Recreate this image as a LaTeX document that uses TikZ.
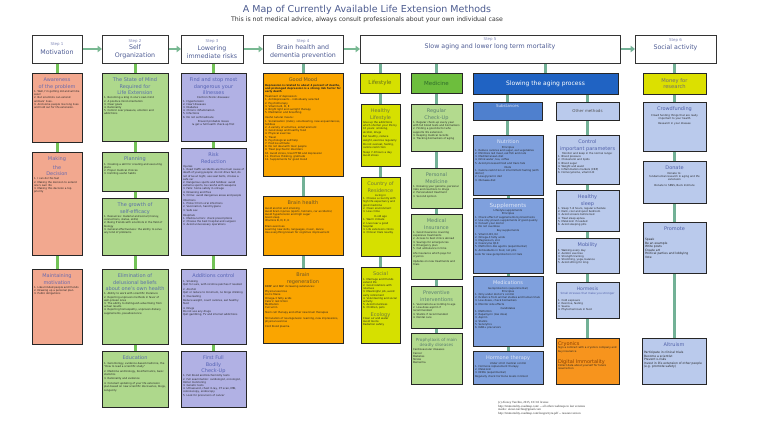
\documentclass[tikz,border=0pt]{standalone}
\usepackage{fontspec}
\setmainfont{DejaVu Sans}
\newfontfamily\serifft{Liberation Serif}
\usetikzlibrary{arrows.meta}
\pgfdeclarelayer{bg}
\pgfsetlayers{bg,main}
\definecolor{salm}{HTML}{F2A88F}
\definecolor{grn}{HTML}{AED88C}
\definecolor{lav}{HTML}{B1B1E4}
\definecolor{org}{HTML}{FAA500}
\definecolor{yel}{HTML}{D6E000}
\definecolor{medg}{HTML}{6DBE3D}
\definecolor{lgrn}{HTML}{B3DA8E}
\definecolor{slowc}{HTML}{2063C3}
\definecolor{subc}{HTML}{4F80CE}
\definecolor{nutc}{HTML}{7FA0DD}
\definecolor{lblu}{HTML}{BACAEC}
\definecolor{cryo}{HTML}{F7941D}
\definecolor{money}{HTML}{DCE000}
\definecolor{cgreen}{HTML}{72C257}
\definecolor{cteal}{HTML}{72B196}
\definecolor{arrc}{HTML}{78B892}
\definecolor{tcS}{HTML}{6A6AAE}
\definecolor{tcG}{HTML}{5A6EA8}
\definecolor{tcL}{HTML}{5562B4}
\definecolor{tcO}{HTML}{6B5528}
\definecolor{tcY}{HTML}{707A3A}
\definecolor{tcM}{HTML}{5C8070}
\definecolor{tcN}{HTML}{DCE4F6}
\definecolor{tcB}{HTML}{5060A8}
\definecolor{tcC}{HTML}{8A3F00}
\definecolor{bodyc}{HTML}{222222}
\definecolor{stepc}{HTML}{8088B8}
\definecolor{stept}{HTML}{4E5C94}
\definecolor{ttl}{HTML}{4C5B8F}
\definecolor{lifet}{HTML}{66701A}
\definecolor{medt}{HTML}{2E6B2A}
\definecolor{othert}{HTML}{555555}
\definecolor{moneyt}{HTML}{707070}
\newcommand\bt{\fontsize{2.6}{3.2}\selectfont}
\newcommand\btl{\fontsize{3}{3.6}\selectfont}
\newcommand\tf{\fontsize{5}{6.4}\selectfont}
\newcommand\stp{\fontsize{4}{4.6}\selectfont\color{stepc}}
\newcommand\stt{\fontsize{6.3}{7.4}\selectfont\color{stept}}
\newcommand\ctr[1]{\par{\centering #1\par}}
\tikzset{
  bx/.style={draw=black!85, line width=0.9pt, anchor=north west, inner xsep=2pt, inner ysep=2.5pt, outer sep=0pt},
  hdr/.style={draw=black!85, line width=0.9pt, anchor=north west, inner sep=1pt, outer sep=0pt, align=center, font=\fontsize{5.5}{6.6}\selectfont},
  stepbox/.style={draw=black!80, line width=0.8pt, fill=white, anchor=north west, align=center, inner sep=1pt, minimum height=28pt, outer sep=0pt, font=\fontsize{6.3}{7.6}\selectfont},
  cg/.style={draw=cgreen, line width=3pt},
  ct/.style={draw=cteal, line width=3pt},
  stepar/.style={draw=arrc, line width=2.6pt, -{Triangle[length=4.5pt,width=6.5pt]}}
}
\newcommand\mybox[9]{%
\node[bx,fill=#6,minimum width=#4pt,minimum height=#5pt] (#1) at (#2,#3) {%
\begin{minipage}[t][\dimexpr#5pt-5pt\relax][t]{\dimexpr#4pt-4pt\relax}%
\vspace*{2.5pt}{\centering\tf\leavevmode\color{#7}#8\par}\vspace{1.2pt}%
{\raggedright\bt\color{bodyc}#9\par}%
\end{minipage}};}
\begin{document}
\begin{tikzpicture}[x=1pt,y=-1pt]
\begin{pgfonlayer}{bg}
\fill[white] (0,0) rectangle (768,427);
\end{pgfonlayer}
\useasboundingbox (0,0) rectangle (768,427);

% title
\node[font=\fontsize{9.5}{11}\selectfont, text=ttl] (title) at (367,10) {A Map of Currently Available Life Extension Methods};
\node[font=\fontsize{6.2}{7}\selectfont, text=black!80] (subtitle) at (367,20) {This is not medical advice, always consult professionals about your own individual case};

% steps
\node[stepbox, minimum width=50pt] (st1) at (32,35) {{\stp Step 1}\\[1.5pt]{\stt Motivation}};
\node[stepbox, minimum width=66pt] (st2) at (102,35) {{\stp Step 2}\\{\stt Self}\\{\stt Organization}};
\node[stepbox, minimum width=62pt] (st3) at (181,35) {{\stp Step 3}\\{\stt Lowering}\\{\stt immediate risks}};
\node[stepbox, minimum width=80pt] (st4) at (263,35) {{\stp Step 4}\\{\stt Brain health and}\\{\stt dementia prevention}};
\node[stepbox, minimum width=260pt] (st5) at (360,35) {{\stp Step 5}\\[0.5pt]{\stt Slow aging and lower long term mortality}\\[4pt]};
\node[stepbox, minimum width=81pt] (st6) at (635,35) {{\stp Step 6}\\[0.5pt]{\stt Social activity}\\[3pt]};

% column 1
\mybox{a1}{32}{73}{50}{69}{salm}{tcS}{Awareness\\of the problem}{1. Well, I'm getting old and will die soon!\\2. But scientists can extend animals' lives.\\3. And some people live long lives and hold out for life extension.}
\mybox{a2}{32}{152}{50}{103}{salm}{tcS}{\vspace*{2pt}Making\\the\\Decision}{1. I can do this fast\\2. Making the decision to extend one's own life\\3. Making this decision a top priority}
\mybox{a3}{32}{269}{50}{75}{salm}{tcS}{Maintaining\\motivation}{1. Like-minded people and friends\\2. Drawing up a personal plan\\3. Public obligations}

% column 2
\mybox{b1}{102}{73}{66}{68}{grn}{tcG}{The State of Mind\\Required for\\Life Extension}{1. Becoming a king in one's own mind\\2. A positive mind orientation\\3. Clear goals\\4. Rationality\\5. Control over pleasure, emotion and addictions}
\mybox{b2}{102}{152}{66}{39}{grn}{tcG}{Planning}{1. Creating a skill for creating and executing plans\\2. Proper medical choices\\3. Instilling useful habits}
\mybox{b3}{102}{198}{66}{57}{grn}{tcG}{The growth of\\self-efficacy}{1. Resources: material and social (money, connections, status, skills)\\2. Being friends with scientists in the field of biology\\3. General effectiveness: the ability to solve any kind of problems}
\mybox{b4}{102}{269}{66}{75}{grn}{tcG}{Elimination of\\delusional beliefs\\about one's own health}{1. Ability to work with scientific literature\\2. Rejecting unproven methods in favor of well-proven ones\\3. The ability to distinguish advertising from actual results\\4. Rejecting homeopathy, unproven dietary supplements, pseudoscience}
\mybox{b5}{102}{351}{66}{56}{grn}{tcG}{Education}{1. Gerontology, evidence-based medicine, the ``How to read a scientific study''\\[1.5pt]2. Medicine and biology, bioinformatics, basic statistics\\[1.5pt]3. Rationality and evidence\\[1.5pt]4. Constant updating of your life extension plan based on new scientific discoveries, blogs, Longecity}

% column 3
\mybox{c1}{181}{73}{65}{68}{lav}{tcL}{Find and stop most\\dangerous your\\illnesses}{\ctr{Control chronic diseases:}1. Hypertension\\2. Heart diseases\\3. Diabetes\\4. Chronic inflammation\\5. Infections\\6. Do not self-medicate\ctr{\vspace{1pt}Prevent probable losses\\\& get a full health check-up first}}
\mybox{c2}{181}{148}{65}{107}{lav}{tcL}{Risk\\Reduction}{Injuries\\1. Road traffic accidents are the main cause of death of young people: do not drive fast, do not drive at night, use seat belts, choose a safe car\\2. Dangerous sports and hobbies: avoid extreme sports, be careful with weapons\\3. Falls: home safety in old age\\4. Drowning and fires\\5. Crime: avoid dangerous areas and people\\[2pt]Infections\\1. Protect from viral infections\\2. Vaccination, hand hygiene\\3. Safe sex\\[2pt]Hospitals\\1. Medical errors: check prescriptions\\2. Choose the best hospital and surgeon\\3. Avoid unnecessary operations}
\mybox{c3}{181}{269}{65}{75}{lav}{tcL}{Additions control}{1. Smoking\\Quit for sure, with nicotine patches if needed\\[1.5pt]2. Alcohol\\Quit or reduce to minimum, no binge drinking\\[1.5pt]3. Overeating\\Reduce weight, count calories, eat healthy food\\[1.5pt]4. Drugs\\Do not use any drugs\\Quit gambling, TV and internet addictions}
\mybox{c4}{181}{351}{65}{56}{lav}{tcL}{First Full\\Bodily\\Check-Up}{1. Full blood and biochemistry tests\\2. Full examination: cardiologist, oncologist, Holter monitoring\\3. Genetic tests\\4. Ultrasound, chest X-ray, CT scan, MRI, colonoscopy, endoscopy\\5. Look for precursors of cancer}

% column 4
\mybox{d1}{263}{73}{80}{103}{org}{tcO}{Good Mood}{\textbf{Depression is related to about 4 percent of deaths, and prolonged depression is a strong risk factor for early death}\\[2pt]Treatment of depression:\\1. Antidepressants -- individually selected\\2. Psychotherapy\\3. Vitamins B, D, E\\4. Bright light and sunlight therapy\\5. Meditation and breathing\\[2pt]Useful natural means:\\1. Socialisation (clubs), volunteering, new acquaintances, hobbies\\2. A variety of activities, entertainment\\3. Good sleep and healthy food\\4. Physical exercise\\5. Travel\\6. Psychological self-help\\7. Positive attitude\\8. Do not deal with toxic people\\9. Treat psychiatric disorders\\10. Avoid stress, treat PTSD and depression\\11. Positive thinking, gratitude\\12. Supplements for good mood}
\mybox{d2}{263}{196}{80}{59}{org}{tcO}{Brain health}{Avoid alcohol and smoking\\Avoid brain injuries (sports, helmets, car accidents)\\Avoid hypertension and high sugar\\Good sleep\\Vitamins B, D, E, K\\[2pt]Brain exercises\\Learning new skills, languages, music, dance\\Use everything known for cognitive improvement}
\mybox{d3}{263}{268}{80}{75}{org}{tcO}{Brain\\regeneration}{BDNF and NGF increasing substances:\\[2pt]Physical exercise\\Lion's Mane\\Omega-3 fatty acids\\Caloric restriction\\Meditation\\Curcumin\\[2pt]Stem cell therapy and other new brain therapies\\[2pt]Stimulation of neurogenesis: learning, new impressions, physical exercise\\[2pt]Cord blood plasma}

% step 5: lifestyle
\node[hdr, fill=yel, minimum width=40pt, minimum height=20pt] (l0) at (360,73) {\color{lifet}Lifestyle};
\mybox{l1}{361}{104}{39}{62}{yel}{tcY}{Healthy\\Lifestyle}{Give up the addictions which shorten your life by 10 years: smoking, alcohol, drugs\\[1.5pt]Eat healthy, reduce weight, exercise regularly\\[1.5pt]Do not overeat, fasting, calorie restriction\\[1.5pt]Sleep 7--8 hours a day\\Avoid stress}
\mybox{l2}{361}{177}{39}{79}{yel}{tcY}{Country of\\Residence}{\ctr{Living in}1. Choose a country with high life expectancy and good medicine\\2. Clean environment\\3. Low crime\\[2pt]\ctr{In old age}1. Warm climate\\2. Live near a good hospital\\3. Life extension clinics\\4. Clinical trials nearby}
\mybox{l3}{361}{267}{39}{76}{yel}{tcY}{Social}{1. Marriage and friends extend life\\2. Good relations with relatives\\3. Meaningful job, avoid early retirement\\4. Volunteering and social activity\\5. Avoid loneliness\\6. Children, pets\ctr{\vspace{1pt}\tf\color{tcY}Ecology}Clean air and water\\Avoid toxins\\Radiation safety}

% step 5: medicine
\node[hdr, fill=medg, minimum width=51pt, minimum height=20pt] (m0) at (411,73) {\color{medt}Medicine};
\mybox{m1}{411}{104}{51}{47}{lgrn}{tcM}{Regular\\Check-Up}{1. Regular check-up every year with full blood tests and biomarkers\\2. Finding a good doctor who supports life extension\\3. Keeping medical records\\4. Tracking biomarkers of aging}
\mybox{m2}{411}{168}{51}{40}{lgrn}{tcM}{Personal\\Medicine}{1. Knowing your genome, personal risks and reactions to drugs\\2. Personalized treatment\\3. Second opinion}
\mybox{m3}{411}{214}{51}{65}{lgrn}{tcM}{Medical\\Insurance}{1. Good insurance covering expensive treatments\\2. Access to best clinics abroad\\3. Savings for emergencies\\4. Emergency plan\\5. Call ambulance in time\\[1.5pt]Life insurance which pays for cryonics\\[1.5pt]Updates on new treatments and trials}
\mybox{m4}{411}{286}{51}{42}{lgrn}{tcM}{Preventive\\interventions}{1. Vaccinations according to age\\2. Low-dose aspirin if recommended\\3. Statins if recommended\\4. Dental care}
\mybox{m5}{411}{333}{51}{51}{lgrn}{tcM}{\fontsize{4.2}{5.4}\selectfont Prophylaxis of main\\deadly diseases}{Cardiovascular diseases\\Cancer\\Diabetes\\Stroke\\Dementia}

% step 5: slowing aging
\node[hdr, fill=slowc, minimum width=145pt, minimum height=21pt, font=\fontsize{6}{7}\selectfont] (s0) at (473,73) {\color{white}Slowing the aging process};
\node[hdr, fill=subc, minimum width=69pt, minimum height=18pt, font=\fontsize{4}{5}\selectfont] (sa) at (473,102) {\color{tcN}Substances\\[5pt]};
\node[hdr, fill=lblu, minimum width=63pt, minimum height=18pt, font=\fontsize{4}{5}\selectfont] (sb) at (556,102) {\color{othert}Other methods};
\mybox{n1}{473}{135}{70}{60}{nutc}{tcN}{Nutrition}{\ctr{Principles}1. Reduce calories and sugar, eat vegetables\\2. Minimize red meat, eat fish and nuts\\3. Mediterranean diet\\4. Drink water, tea, coffee\\5. Avoid processed food and trans fats\ctr{\vspace{1pt}Diets}1. Calorie restriction or intermittent fasting (with doctor)\\2. Low-glycemic diet\\3. Okinawa diet}
\mybox{n2}{473}{198}{70}{75}{nutc}{tcN}{\fontsize{5.6}{6.4}\selectfont Supplements}{\ctr{Lifestyle supplements}\ctr{Principles}1. Check effect of supplements by blood tests\\2. Use only proven supplements of good quality\\3. Consult your doctor\\4. Do not overdose\ctr{\vspace{1pt}Key supplements}1. Vitamin D3, K2\\2. Omega-3 fatty acids\\3. Magnesium, zinc\\4. Coenzyme Q10\\5. Metformin-like agents (experimental)\\6. Antioxidants in food, not pills\\[1.5pt]Look for new geroprotectors in trials}
\mybox{n3}{473}{276}{70}{70}{nutc}{tcN}{Medications}{\ctr{Geroprotectors (experimental)}\ctr{Principles}1. Only under doctor's control\\2. Evidence from animal studies and human trials\\3. Low doses, check biomarkers\\4. Monitor side effects\ctr{\vspace{1pt}Candidates}1. Metformin\\2. Rapamycin (low dose)\\3. Aspirin\\4. Statins\\5. Senolytics\\6. NAD+ precursors}
\mybox{n4}{473}{351}{70}{33}{nutc}{tcN}{Hormone therapy}{\ctr{Under strict medical control}1. Hormone replacement therapy\\2. Melatonin\\3. DHEA (experimental)\\[1pt]Regularly check hormone levels in blood}
\mybox{o1}{556}{135}{63}{49}{lblu}{tcB}{Control\\important parameters}{\ctr{Monitor and keep in the normal range:}1. Blood pressure\\2. Cholesterol and lipids\\3. Blood sugar\\4. Weight and waist\\5. Inflammation markers (CRP)\\6. Homocysteine, vitamin D}
\mybox{o2}{556}{190}{63}{41}{lblu}{tcB}{Healthy\\sleep}{1. Sleep 7--8 hours, regular schedule\\2. Dark, cool and quiet bedroom\\3. Avoid screens before bed\\4. Treat sleep apnea\\5. Melatonin if needed\\6. Avoid sleeping pills}
\mybox{o3}{556}{238}{63}{35}{lblu}{tcB}{Mobility}{1. Walking every day\\2. Aerobic exercise\\3. Strength training\\4. Stretching, yoga, balance\\5. Avoid sitting for long}
\mybox{o4}{556}{282}{63}{36}{lblu}{tcB}{\fontsize{4.6}{5}\selectfont Hormesis\\[-0.5pt]{\fontsize{2.8}{3}\selectfont Small stresses that make you stronger}}{\vspace{2pt}1. Cold exposure\\2. Exercise, fasting\\3. Sauna\\4. Phytochemicals in food}
\node[bx, fill=cryo, minimum width=63pt, minimum height=46pt] (o5) at (556,338) {\begin{minipage}[t][41pt][t]{59pt}\raggedright\vspace*{1.5pt}{\tf\color{tcC}Cryonics\par}{\bt\color{bodyc}Sign a contract with a cryonics company and buy insurance\par}\vspace{5pt}{\tf\color{tcC}Digital Immortality\par}{\bt\color{bodyc}Collect data about yourself for future resurrection\par}\end{minipage}};

% step 6
\node[hdr, fill=money, minimum width=63pt, minimum height=21pt, font=\fontsize{5.2}{6.4}\selectfont] (p0) at (643,73) {\color{moneyt}Money for\\\color{moneyt}research};
\mybox{p1}{643}{102}{63}{49}{lblu}{tcB}{Crowdfunding}{\ctr{\vspace{1pt}Crowd funding things that are really important to your health\\[2pt]Research in your disease}}
\mybox{p2}{643}{161}{63}{42}{lblu}{tcB}{Donate}{\ctr{Donate to:\\fundamental research in aging and life extension\\[3pt]Donate to SENS, Buck Institute}}
\mybox{p3}{643}{222}{63}{51}{lblu}{tcB}{Promote}{\btl\vspace{5pt}Speak\\Be an example\\Write posts\\Create art\\Political parties and lobbying\\Vote}
\mybox{p4}{642}{338}{64}{46}{lblu}{tcB}{Altruism}{\btl\vspace{2pt}Participate in clinical trials\\Become a scientist\\Prevent x-risks\\Invest in life extension of other people (e.g. promote safety)}

% footer
\node[anchor=north west, align=left, font=\serifft\fontsize{3.1}{3.7}\selectfont, text=black!80, inner sep=0pt] (foot) at (498,401) {(c) Alexey Turchin, 2015, CC3.0 license\\http://immortality-roadmap.com/ -- all other roadmaps in last versions\\mailto: alexei.turchin@gmail.com\\http://immortality-roadmap.com/longevityru.pdf -- russian version};

% connectors
\begin{pgfonlayer}{bg}
\draw[stepar] (st1.east) -- (st2.west);
\draw[stepar] (st2.east) -- (st3.west);
\draw[stepar] (st3.east) -- (st4.west);
\draw[stepar] (st4.east) -- (st5.west);
\draw[stepar, draw=cteal] (st5.east) -- (st6.west);
\draw[cg] (st1.south) -- (a1.north);
\draw[cg] (a1.south) -- (a2.north);
\draw[cg] (a2.south) -- (a3.north);
\draw[cg] (st2.south) -- (b1.north);
\draw[cg] (b1.south) -- (b2.north);
\draw[cg] (b2.south) -- (b3.north);
\draw[cg] (b3.south) -- (b4.north);
\draw[cg] (b4.south) -- (b5.north);
\draw[cg] (st3.south -| c1.north) -- (c1.north);
\draw[cg] (c1.south) -- (c2.north);
\draw[cg] (c2.south) -- (c3.north);
\draw[cg] (c3.south) -- (c4.north);
\draw[ct] (st4.south) -- (d1.north);
\draw[ct] (d1.south) -- (d2.north);
\draw[ct] (d2.south) -- (d3.north);
\draw[ct] (st5.south -| l0.north) -- (l0.north);
\draw[ct] (st5.south -| m0.north) -- (m0.north);
\draw[ct] (st5.south -| s0.north) -- (s0.north);
\draw[ct] (l0.south) -- (l0.south |- l1.north);
\draw[ct] (l1.south) -- (l2.north);
\draw[ct] (l2.south) -- (l3.north);
\draw[ct] (m0.south) -- (m1.north);
\draw[ct] (m1.south) -- (m2.north);
\draw[ct] (m2.south) -- (m3.north);
\draw[ct] (m3.south) -- (m4.north);
\draw[ct] (m4.south) -- (m5.north);
\draw[ct] (s0.south -| sa.north) -- (sa.north);
\draw[ct] (s0.south -| sb.north) -- (sb.north);
\draw[ct] (sa.south) -- (sa.south |- n1.north);
\draw[ct] (n1.south) -- (n2.north);
\draw[ct] (n2.south) -- (n3.north);
\draw[ct] (n3.south) -- (n4.north);
\draw[ct] (sb.south) -- (o1.north);
\draw[ct] (o1.south) -- (o2.north);
\draw[ct] (o2.south) -- (o3.north);
\draw[ct] (o3.south) -- (o4.north);
\draw[ct] (o4.south) -- (o5.north);
\draw[ct] (st6.south -| p0.north) -- (p0.north);
\draw[ct] (p0.south) -- (p1.north);
\draw[ct] (p1.south) -- (p2.north);
\draw[ct] (p2.south) -- (p3.north);
\draw[ct] (p3.south) -- (p3.south |- p4.north);
\end{pgfonlayer}
\end{tikzpicture}
\end{document}
